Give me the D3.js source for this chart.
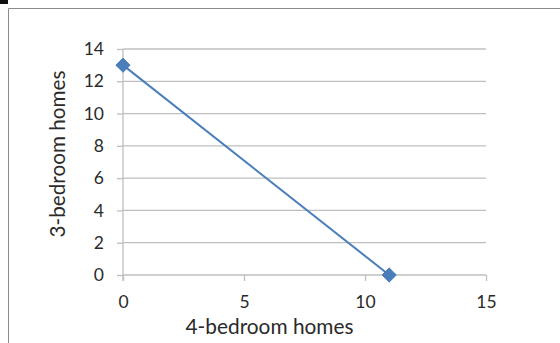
<!DOCTYPE html>
<html>
<head>
<meta charset="utf-8">
<script src="https://cdn.jsdelivr.net/npm/d3@7"></script>
<style>
  html, body { margin: 0; padding: 0; background: #fff; }
  svg { display: block; }
</style>
</head>
<body>
<svg id="chart" width="560" height="343"></svg>
<script>
// Housing mix: number of 4-bedroom vs 3-bedroom homes
const fourBedroom = [0, 11];
const threeBedroom = [13, 0];
const xTicks = [0, 5, 10, 15];
const yTicks = [0, 2, 4, 6, 8, 10, 12, 14];
const xTitle = "4-bedroom homes";
const yTitle = "3-bedroom homes";

const FONT = "Lato, 'Open Sans', sans-serif";
const TEXT = "#2a2a2a";
const GRID = "#bfbfbf";
const BLUE = "#4a7ebb";

const svg = d3.select("#chart");

// chart frame
svg.append("rect").attr("x", 0).attr("y", 0).attr("width", 8).attr("height", 4).attr("fill", "#111");
svg.append("line").attr("x1", 8.5).attr("x2", 560).attr("y1", 8.5).attr("y2", 8.5)
  .attr("stroke", "#8c8c8c").attr("stroke-width", 1);
svg.append("line").attr("x1", 8.5).attr("x2", 8.5).attr("y1", 8.5).attr("y2", 343)
  .attr("stroke", "#8c8c8c").attr("stroke-width", 1);

const x = d3.scaleLinear().domain([0, 15]).range([123, 486]);
const y = d3.scaleLinear().domain([0, 14]).range([275, 49]);

// horizontal gridlines
svg.append("g").selectAll("line").data(yTicks.filter(d => d !== 0)).join("line")
  .attr("x1", x(0)).attr("x2", x(15))
  .attr("y1", d => y(d)).attr("y2", d => y(d))
  .attr("stroke", GRID).attr("stroke-width", 1.3);

// axes
const yAxis = svg.append("g").attr("transform", `translate(${x(0)},0)`)
  .call(d3.axisLeft(y).tickValues(yTicks).tickSize(6).tickPadding(13));
const xAxis = svg.append("g").attr("transform", `translate(0,${y(0)})`)
  .call(d3.axisBottom(x).tickValues(xTicks).tickSize(6).tickPadding(14.5));

[yAxis, xAxis].forEach(g => {
  g.attr("font-family", FONT).attr("font-size", 17.5);
  g.select(".domain").attr("stroke", GRID).attr("stroke-width", 1.3);
  g.selectAll(".tick line").attr("stroke", GRID).attr("stroke-width", 1.3);
  g.selectAll(".tick text").attr("fill", TEXT);
});
xAxis.select(".domain").attr("d", `M${x(0)},0H${x(15)}`);
yAxis.select(".domain").attr("d", `M0,${y(14)}V${y(0) + 6}`);

// axis titles, sized to span their intended widths
function fitText(sel, width) {
  const w = sel.node().getComputedTextLength();
  const fs = +sel.attr("font-size");
  sel.attr("font-size", fs * width / w);
}
const xt = svg.append("text").attr("x", 269.5).attr("y", 334)
  .attr("text-anchor", "middle").attr("font-family", FONT).attr("font-size", 20)
  .attr("fill", TEXT).text(xTitle);
fitText(xt, 168);
const yt = svg.append("text").attr("transform", `translate(65,154) rotate(-90)`)
  .attr("text-anchor", "middle").attr("font-family", FONT).attr("font-size", 20)
  .attr("fill", TEXT).text(yTitle);
fitText(yt, 167);

// series line and markers
const pts = fourBedroom.map((v, i) => [v, threeBedroom[i]]);
svg.append("path").datum(pts)
  .attr("d", d3.line().x(d => x(d[0])).y(d => y(d[1])))
  .attr("fill", "none").attr("stroke", BLUE).attr("stroke-width", 2);
svg.append("g").selectAll("path").data(pts).join("path")
  .attr("transform", d => `translate(${x(d[0])},${y(d[1])})`)
  .attr("d", d3.symbol(d3.symbolDiamond2, 130))
  .attr("fill", BLUE).attr("stroke", "#3f72ad").attr("stroke-width", 0.8);
</script>
</body>
</html>
